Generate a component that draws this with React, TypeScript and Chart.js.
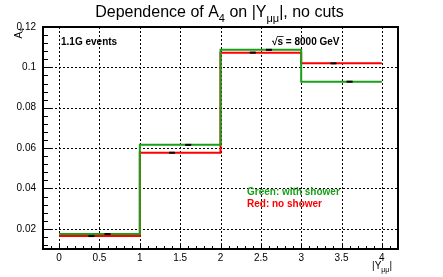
import React, { useEffect, useRef } from 'react';
import { Chart, registerables } from 'chart.js';

Chart.register(...registerables);

const binEdges = [0, 1, 2, 3, 4];
const greenValues = [0.0174, 0.0616, 0.1087, 0.0929];
const redValues = [0.0164, 0.0577, 0.1073, 0.102];
const xTickValues = [0, 0.5, 1, 1.5, 2, 2.5, 3, 3.5, 4];
const xTickLabels = ['0', '0.5', '1', '1.5', '2', '2.5', '3', '3.5', '4'];
const yTickValues = [0.02, 0.04, 0.06, 0.08, 0.1, 0.12];
const yTickLabels = ['0.02', '0.04', '0.06', '0.08', '0.1', '0.12'];
const markerOffset = 0.1;

const GREEN = 'rgb(25,160,25)';
const RED = 'rgb(255,0,0)';
const FONT = '"Liberation Sans", Arial, Helvetica, sans-serif';

function stepPoints(values: number[]) {
  return binEdges.map((e, i) => ({ x: e, y: values[Math.min(i, values.length - 1)] }));
}
function markerPoints(values: number[], off: number) {
  return values.map((v, i) => ({ x: (binEdges[i] + binEdges[i + 1]) / 2 + off, y: v }));
}

function drawSub(ctx: CanvasRenderingContext2D, parts: [string, number, number][], x: number, y: number) {
  let cx = x;
  for (const [t, size, dy] of parts) {
    ctx.font = `${size}px ${FONT}`;
    ctx.fillText(t, cx, y + dy);
    cx += ctx.measureText(t).width;
  }
  return cx - x;
}
function measureSub(ctx: CanvasRenderingContext2D, parts: [string, number, number][]) {
  let w = 0;
  for (const [t, size] of parts) {
    ctx.font = `${size}px ${FONT}`;
    w += ctx.measureText(t).width;
  }
  return w;
}

const rootPlugin = {
  id: 'rootStyle',
  beforeDatasetsDraw(chart: any) {
    const { ctx, chartArea: a, scales } = chart;
    const x = scales.x, y = scales.y;
    ctx.save();
    ctx.strokeStyle = '#000';
    ctx.lineWidth = 1;
    ctx.setLineDash([2, 2]);
    for (const v of xTickValues) {
      const px = Math.round(x.getPixelForValue(v)) + 0.5;
      ctx.beginPath();
      ctx.moveTo(px, a.top);
      ctx.lineTo(px, a.bottom);
      ctx.stroke();
    }
    for (const v of yTickValues) {
      if (v >= y.max - 1e-9) continue;
      const py = Math.round(y.getPixelForValue(v)) + 0.5;
      ctx.beginPath();
      ctx.moveTo(a.left, py);
      ctx.lineTo(a.right, py);
      ctx.stroke();
    }
    ctx.restore();
  },
  afterDatasetsDraw(chart: any) {
    const { ctx, chartArea: a, scales } = chart;
    const x = scales.x, y = scales.y;
    ctx.save();
    ctx.strokeStyle = '#000';
    ctx.lineWidth = 2;
    ctx.strokeRect(a.left, a.top, a.right - a.left, a.bottom - a.top);
    ctx.lineWidth = 1;
    for (const v of yTickValues) {
      const py = Math.round(y.getPixelForValue(v)) + 0.5;
      ctx.beginPath();
      ctx.moveTo(a.left, py);
      ctx.lineTo(a.left + 10, py);
      ctx.stroke();
    }
    for (let k = 3; k <= 30; k++) {
      const v = k * 0.004;
      if (v < y.min || v > y.max) continue;
      const py = Math.round(y.getPixelForValue(v)) + 0.5;
      ctx.beginPath();
      ctx.moveTo(a.left, py);
      ctx.lineTo(a.left + 5, py);
      ctx.stroke();
    }
    for (const v of xTickValues) {
      const px = Math.round(x.getPixelForValue(v)) + 0.5;
      ctx.beginPath();
      ctx.moveTo(px, a.bottom);
      ctx.lineTo(px, a.bottom - 6);
      ctx.stroke();
    }
    for (let k = -1; k <= 41; k++) {
      const v = k * 0.1;
      const px = Math.round(x.getPixelForValue(v)) + 0.5;
      if (px < a.left + 1 || px > a.right - 1) continue;
      ctx.beginPath();
      ctx.moveTo(px, a.bottom);
      ctx.lineTo(px, a.bottom - 3);
      ctx.stroke();
    }

    ctx.fillStyle = '#000';
    ctx.textAlign = 'left';
    ctx.textBaseline = 'alphabetic';
    const title: [string, number, number][] = [
      ['Dependence of A', 16, 0],
      ['4', 11, 5],
      [' on |Y', 16, 0],
      ['\u03bc\u03bc', 11, 5],
      ['|, no cuts', 16, 0],
    ];
    const tw = measureSub(ctx, title);
    drawSub(ctx, title, 219.5 - tw / 2, 16.5);

    ctx.save();
    ctx.translate(22, 27);
    ctx.rotate(-Math.PI / 2);
    const yt: [string, number, number][] = [['A', 10, 0], ['4', 7, 2]];
    const yw = measureSub(ctx, yt);
    drawSub(ctx, yt, -yw - 1, 0);
    ctx.restore();

    const xt: [string, number, number][] = [['|Y', 10, 0], ['\u03bc\u03bc', 7, 3], ['|', 10, 0]];
    const xw = measureSub(ctx, xt);
    drawSub(ctx, xt, 392 - xw, 269);

    ctx.font = `bold 10px ${FONT}`;
    ctx.fillStyle = '#000';
    ctx.fillText('1.1G events', 61, 45);
    ctx.fillText('\u221a', 272, 45);
    const sq = ctx.measureText('\u221a').width;
    ctx.fillText('s = 8000 GeV', 272 + sq, 45);
    const sw = ctx.measureText('s').width;
    ctx.lineWidth = 0.8;
    ctx.beginPath();
    ctx.moveTo(272 + sq - 0.5, 36.5);
    ctx.lineTo(272 + sq + sw + 0.5, 36.5);
    ctx.stroke();

    ctx.fillStyle = GREEN;
    ctx.fillText('Green: with shower', 247, 194.5);
    ctx.fillStyle = RED;
    ctx.fillText('Red: no shower', 247, 207);
    ctx.restore();
  },
};

export default function App() {
  const ref = useRef<HTMLCanvasElement>(null);
  useEffect(() => {
    if (!ref.current) return;
    const chart = new Chart(ref.current, {
      type: 'line',
      data: {
        datasets: [
          {
            label: 'markers',
            data: [...markerPoints(redValues, -markerOffset), ...markerPoints(greenValues, markerOffset)],
            showLine: false,
            pointStyle: 'line',
            pointRadius: 3,
            pointBorderWidth: 2,
            pointBorderColor: '#000',
            pointBackgroundColor: '#000',
            order: 0,
          } as any,
          {
            label: 'Green: with shower',
            data: stepPoints(greenValues),
            stepped: 'before',
            borderColor: GREEN,
            borderWidth: 2,
            pointRadius: 0,
            fill: false,
            order: 1,
          },
          {
            label: 'Red: no shower',
            data: stepPoints(redValues),
            stepped: 'before',
            borderColor: RED,
            borderWidth: 2,
            pointRadius: 0,
            fill: false,
            order: 2,
          },
        ],
      },
      options: {
        animation: false,
        responsive: false,
        events: [],
        layout: { padding: { left: 0, right: 45, top: 27, bottom: 0 } },
        plugins: { legend: { display: false }, tooltip: { enabled: false }, title: { display: false } },
        scales: {
          x: {
            type: 'linear',
            min: -0.2,
            max: 4.2,
            grid: { display: false, drawTicks: false },
            border: { display: false },
            afterBuildTicks: (s: any) => {
              s.ticks = xTickValues.map((v) => ({ value: v }));
            },
            afterFit: (s: any) => {
              s.height = 28;
            },
            ticks: {
              callback: (_v: any, i: number) => xTickLabels[i],
              font: { family: FONT, size: 10 },
              color: '#000',
              padding: 3,
              maxRotation: 0,
              autoSkip: false,
            },
          },
          y: {
            type: 'linear',
            min: 0.01,
            max: 0.12,
            grid: { display: false, drawTicks: false },
            border: { display: false },
            afterBuildTicks: (s: any) => {
              s.ticks = yTickValues.map((v) => ({ value: v }));
            },
            afterFit: (s: any) => {
              s.width = 43;
            },
            ticks: {
              callback: (_v: any, i: number) => yTickLabels[i],
              font: { family: FONT, size: 10 },
              color: '#000',
              padding: 7,
              autoSkip: false,
            },
          },
        },
      },
      plugins: [rootPlugin],
    } as any);
    return () => chart.destroy();
  }, []);
  return (
    <div style={{ position: 'absolute', left: 0, top: 0, width: 443, height: 277, background: '#fff' }}>
      <canvas ref={ref} width={443} height={277} />
    </div>
  );
}
